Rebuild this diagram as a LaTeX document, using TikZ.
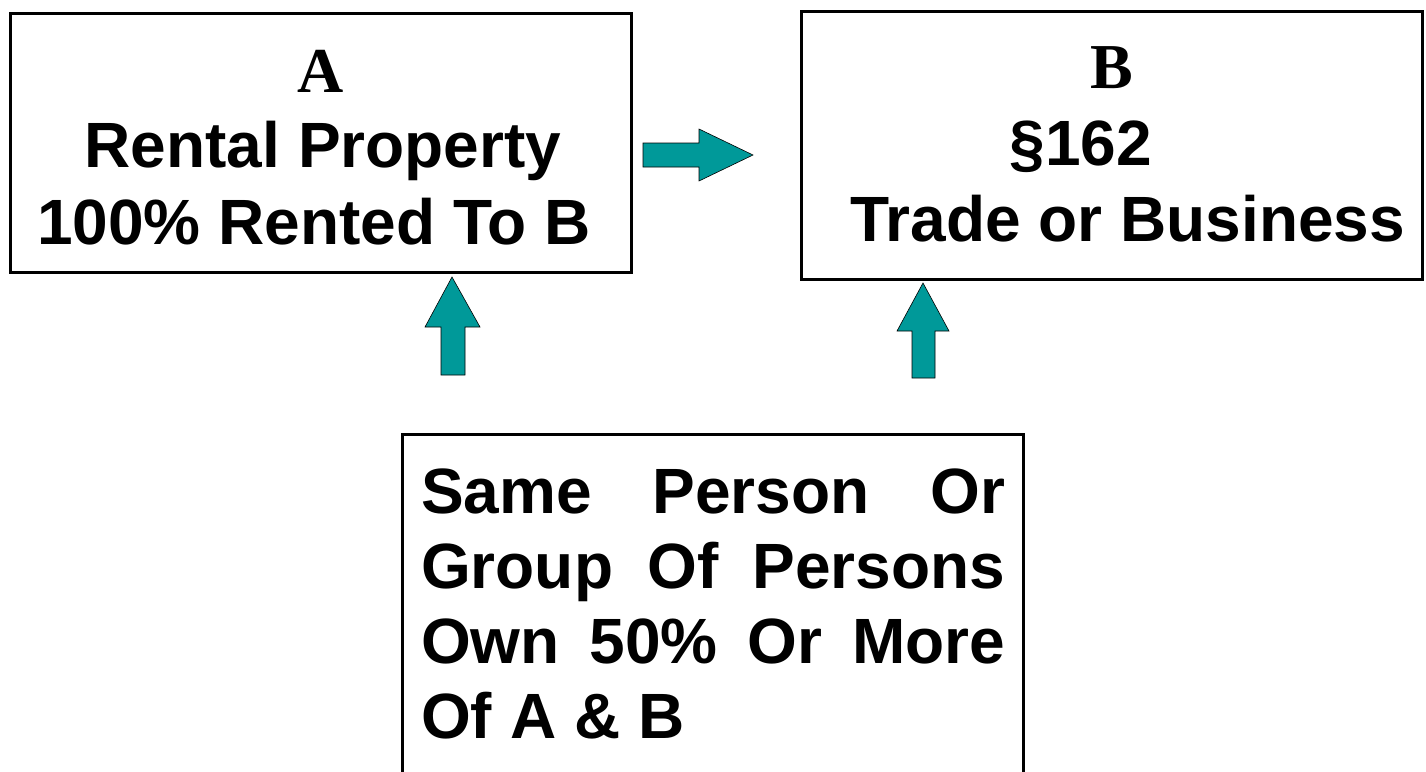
\documentclass[tikz,border=0pt]{standalone}
\usepackage{fontspec}
\setmainfont{Liberation Sans}
\newfontfamily\serifbf{Liberation Serif}
\begin{document}
\begin{tikzpicture}[x=1pt,y=-1pt,
  box/.style={draw=black,line width=3pt,fill=none},
  txt/.style={inner sep=0pt,anchor=base,font=\fontsize{64}{75}\selectfont\bfseries},
  ttl/.style={inner sep=0pt,anchor=base,font=\fontsize{64}{75}\selectfont\serifbf\bfseries},
  blockarrow/.style={fill=teal!0!white,fill={rgb,255:red,0;green,153;blue,153},draw=black,line width=0.6pt,line join=miter}]
\useasboundingbox (0,0) rectangle (1426,771);
% boxes
\draw[box] (10.5,13.5) rectangle (631,272) coordinate (boxA);
\draw[box] (801,11) rectangle (1422,279) coordinate (boxB);
\draw[box] (402.5,434.5) -- (1023,434.5) -- (1023,790) ;
\draw[box] (402.5,433) -- (402.5,790);
% texts in A
\node[ttl] (ta) at (320.5,92) {A};
\node[txt] (ta1) at (323,167) {Rental Property};
\node[txt] (ta2) at (314,244) {100\% Rented To B};
% texts in B
\node[ttl] (tb) at (1112,88) {B};
\node[txt] (tb1) at (1081,165) {§162};
\node[txt] (tb2) at (1127.5,241) {Trade or Business};
% bottom box text
\node[txt,anchor=base west] (tc1) at (421,513) {\hbox to 584pt{Same\hfill Person\hfill Or}};
\node[txt,anchor=base west] (tc2) at (421,588) {\hbox to 584pt{Group\hfill Of\hfill Persons}};
\node[txt,anchor=base west] (tc3) at (421,663) {\hbox to 584pt{Own\hfill 50\%\hfill Or\hfill More}};
\node[txt,anchor=base west] (tc4) at (421,738) {Of A \& B};
% block arrows
\draw[blockarrow] (643,143) -- (699,143) -- (699,129) -- (753,155) -- (699,181) -- (699,167) -- (643,167) -- cycle;
\draw[blockarrow] (441,375) -- (441,327) -- (425,327) -- (452,277) -- (480,327) -- (465,327) -- (465,375) -- cycle;
\draw[blockarrow] (912,378) -- (912,331) -- (897,331) -- (923,283) -- (949,331) -- (935,331) -- (935,378) -- cycle;
\end{tikzpicture}
\end{document}
